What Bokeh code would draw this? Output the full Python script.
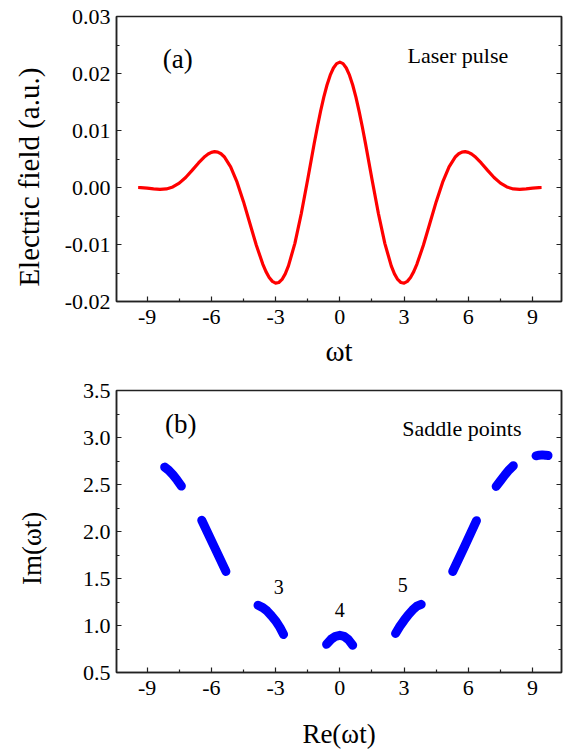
from bokeh.plotting import figure
from bokeh.models import Range1d, LinearAxis, FixedTicker, NumeralTickFormatter, Label
from bokeh.layouts import column
from bokeh.embed import file_html
from bokeh.resources import INLINE

# ---------------- data ----------------
# (a) laser pulse electric field E(t) in a.u.
t_vals = [-9.42, -9.3, -9.0, -8.7, -8.4, -8.1, -7.8, -7.5, -7.2, -6.9, -6.6, -6.3, -6.15,
          -6.0, -5.85, -5.7, -5.55, -5.4, -5.1, -4.8, -4.5, -4.2, -3.9, -3.6, -3.45, -3.3,
          -3.15, -3.0, -2.85, -2.7, -2.55, -2.4, -2.1, -1.8, -1.5, -1.2, -1.05, -0.9, -0.75,
          -0.6, -0.45, -0.3, -0.15,
          0.0,
          0.15, 0.3, 0.45, 0.6, 0.75, 0.9, 1.05, 1.2, 1.5, 1.8, 2.1, 2.4, 2.55, 2.7, 2.85,
          3.0, 3.15, 3.3, 3.45, 3.6, 3.9, 4.2, 4.5, 4.8, 5.1, 5.4, 5.55, 5.7, 5.85, 6.0,
          6.15, 6.3, 6.6, 6.9, 7.2, 7.5, 7.8, 8.1, 8.4, 8.7, 9.0, 9.3, 9.42]
e_vals = [0.0, -0.00001, -0.00010, -0.00024, -0.00033, -0.00025, 0.00009, 0.00076, 0.00176,
          0.00300, 0.00430, 0.00545, 0.00588, 0.00617, 0.00629, 0.00621, 0.00592, 0.00540,
          0.00362, 0.00093, -0.00248, -0.00631, -0.01012, -0.01344, -0.01476, -0.01579,
          -0.01647, -0.01677, -0.01666, -0.01613, -0.01516, -0.01376, -0.00980, -0.00456,
          0.00146, 0.00766, 0.01061, 0.01337, 0.01585, 0.01798, 0.01970, 0.02096, 0.02174,
          0.02200,
          0.02174, 0.02096, 0.01970, 0.01798, 0.01585, 0.01337, 0.01061, 0.00766, 0.00146,
          -0.00456, -0.00980, -0.01376, -0.01516, -0.01613, -0.01666, -0.01677, -0.01647,
          -0.01579, -0.01476, -0.01344, -0.01012, -0.00631, -0.00248, 0.00093, 0.00362,
          0.00540, 0.00592, 0.00621, 0.00629, 0.00617, 0.00588, 0.00545, 0.00430, 0.00300,
          0.00176, 0.00076, 0.00009, -0.00025, -0.00033, -0.00024, -0.00010, -0.00001, 0.0]

# (b) saddle points: Re(wt), Im(wt) for each branch
s1_re = [-8.18, -8.0, -7.8, -7.6, -7.40]
s1_im = [2.685, 2.653, 2.605, 2.547, 2.483]
s2_re = [-6.45, -5.9, -5.32]
s2_im = [2.120, 1.855, 1.575]
s3_re = [-3.82, -3.6, -3.4, -3.2, -3.0, -2.8, -2.63]
s3_im = [1.215, 1.190, 1.155, 1.105, 1.050, 0.980, 0.905]
s4_re = [-0.62, -0.4, -0.2, 0.0, 0.2, 0.4, 0.60]
s4_im = [0.800, 0.855, 0.885, 0.895, 0.885, 0.850, 0.790]
s5_re = [2.60, 2.8, 3.0, 3.2, 3.4, 3.6, 3.80]
s5_im = [0.915, 0.990, 1.055, 1.115, 1.165, 1.205, 1.225]
s6_re = [5.27, 5.8, 6.38]
s6_im = [1.575, 1.830, 2.115]
s7_re = [7.30, 7.5, 7.7, 7.9, 8.10]
s7_im = [2.480, 2.540, 2.600, 2.655, 2.700]
s8_re = [9.16, 9.3, 9.45, 9.6, 9.72]
s8_im = [2.805, 2.812, 2.815, 2.812, 2.808]
branches = [(s1_re, s1_im), (s2_re, s2_im), (s3_re, s3_im), (s4_re, s4_im),
            (s5_re, s5_im), (s6_re, s6_im), (s7_re, s7_im), (s8_re, s8_im)]

# branch labels
num_text = ["3", "4", "5"]
num_x = [-2.85, 0.0, 2.94]
num_y = [1.41, 1.16, 1.43]

# ticks
x_ticks = [-9, -6, -3, 0, 3, 6, 9]
x_minor = [-7.5, -4.5, -1.5, 1.5, 4.5, 7.5]
ya_ticks = [-0.02, -0.01, 0.0, 0.01, 0.02, 0.03]
ya_minor = [-0.015, -0.005, 0.005, 0.015, 0.025]
yb_ticks = [0.5, 1.0, 1.5, 2.0, 2.5, 3.0, 3.5]
yb_minor = [0.75, 1.25, 1.75, 2.25, 2.75, 3.25]

FONT = "Liberation Serif"
AXC = "#222222"
NB = "\u00a0"  # non-breaking space used to nudge vertical titles along the axis


def style(ax, size="22px"):
    ax.axis_line_color = AXC
    ax.axis_line_width = 1.5
    ax.major_tick_line_color = AXC
    ax.minor_tick_line_color = AXC
    ax.major_tick_line_width = 1.2
    ax.minor_tick_line_width = 1.2
    ax.major_tick_in = 5
    ax.major_tick_out = 0
    ax.minor_tick_in = 3
    ax.minor_tick_out = 0
    ax.major_label_text_font = FONT
    ax.major_label_text_font_size = size
    ax.major_label_text_color = "black"
    ax.axis_label_text_font = FONT
    ax.axis_label_text_font_style = "normal"
    ax.axis_label_text_color = "black"


def make_fig(h, yr, yt, ym, fmt, btop, bbot):
    p = figure(width=563, height=h, x_range=Range1d(-10.43, 10.35), y_range=yr,
               output_backend="svg", toolbar_location=None,
               min_border_left=116, min_border_right=2,
               min_border_top=btop, min_border_bottom=bbot)
    p.title = None
    p.xgrid.visible = False
    p.ygrid.visible = False
    p.outline_line_color = AXC
    p.outline_line_width = 1.5
    p.background_fill_color = "white"
    p.border_fill_color = "white"
    bx = p.below[0]
    ly = p.left[0]
    bx.ticker = FixedTicker(ticks=x_ticks, minor_ticks=x_minor)
    bx.formatter = NumeralTickFormatter(format="0")
    ly.ticker = FixedTicker(ticks=yt, minor_ticks=ym)
    ly.formatter = NumeralTickFormatter(format=fmt)
    style(bx)
    style(ly)
    bx.major_label_standoff = 8
    ly.major_label_standoff = 6
    # right axis: inward ticks only, no visible labels
    r = LinearAxis(ticker=FixedTicker(ticks=yt, minor_ticks=ym))
    style(r, "1px")
    r.major_label_text_color = None
    r.major_label_standoff = 0
    p.add_layout(r, "right")
    return p, bx, ly


# ---------------- panel (a) ----------------
p1, bx1, ly1 = make_fig(376, Range1d(-0.02, 0.03), ya_ticks, ya_minor, "0.00", 16, 75)
p1.line(t_vals, e_vals, line_color="#ff0000", line_width=3.2, line_join="round")
bx1.axis_label = "ωt"
bx1.axis_label_text_font_size = "29px"
bx1.axis_label_standoff = 8
ly1.axis_label = "Electric field (a.u.)" + NB * 5
ly1.axis_label_text_font_size = "29px"
ly1.axis_label_standoff = 17
p1.add_layout(Label(x=-7.57, y=0.0226, text="(a)", text_font=FONT, text_font_size="27px",
                    text_align="center", text_baseline="middle", text_color="black"))
p1.add_layout(Label(x=5.51, y=0.0231, text="Laser pulse", text_font=FONT,
                    text_font_size="22px", text_align="center", text_baseline="middle",
                    text_color="black"))

# ---------------- panel (b) ----------------
p2, bx2, ly2 = make_fig(375, Range1d(0.5, 3.5), yb_ticks, yb_minor, "0.0", 14, 78)
for sx, sy in branches:
    p2.line(sx, sy, line_color="#0000ff", line_width=9, line_cap="round", line_join="round")
p2.add_layout(Label(x=-7.43, y=3.146, text="(b)", text_font=FONT, text_font_size="27px",
                    text_align="center", text_baseline="middle", text_color="black"))
p2.add_layout(Label(x=5.70, y=3.10, text="Saddle points", text_font=FONT,
                    text_font_size="22px", text_align="center", text_baseline="middle",
                    text_color="black"))
for tx, xx, yy in zip(num_text, num_x, num_y):
    p2.add_layout(Label(x=xx, y=yy, text=tx, text_font=FONT, text_font_size="20px",
                        text_align="center", text_baseline="middle", text_color="black"))
bx2.axis_label = "Re(ωt)"
bx2.axis_label_text_font_size = "27px"
bx2.axis_label_standoff = 21
ly2.axis_label = "Im(ωt)" + NB * 5
ly2.axis_label_text_font_size = "27px"
ly2.axis_label_standoff = 33

layout = column(p1, p2)
open("out.html", "w").write(file_html(layout, INLINE))
